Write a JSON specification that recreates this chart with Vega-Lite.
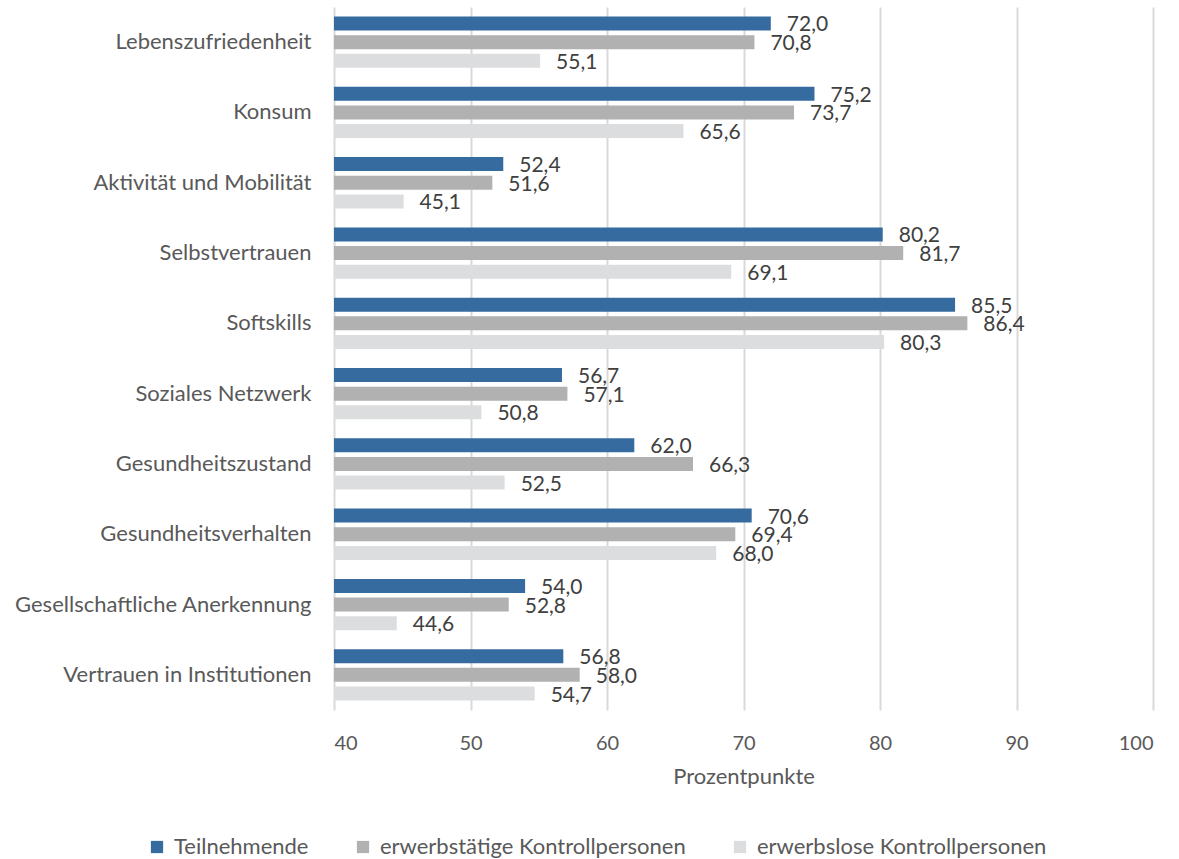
{
  "$schema": "https://vega.github.io/schema/vega-lite/v6.json",
  "autosize": "none",
  "width": 819,
  "height": 703,
  "padding": {"left": 334, "top": 7, "right": 26, "bottom": 149},
  "background": "white",
  "config": {
    "locale": {"number": {"decimal": ",", "thousands": ".", "grouping": [3], "currency": ["", " €"]}},
    "view": {"stroke": null},
    "font": "Lato"
  },
  "data": {
    "values": [
      {"k": "Lebenszufriedenheit", "g": "Teilnehmende", "v": 72.0},
      {"k": "Lebenszufriedenheit", "g": "erwerbstätige Kontrollpersonen", "v": 70.8},
      {"k": "Lebenszufriedenheit", "g": "erwerbslose Kontrollpersonen", "v": 55.1},
      {"k": "Konsum", "g": "Teilnehmende", "v": 75.2},
      {"k": "Konsum", "g": "erwerbstätige Kontrollpersonen", "v": 73.7},
      {"k": "Konsum", "g": "erwerbslose Kontrollpersonen", "v": 65.6},
      {"k": "Aktivität und Mobilität", "g": "Teilnehmende", "v": 52.4},
      {"k": "Aktivität und Mobilität", "g": "erwerbstätige Kontrollpersonen", "v": 51.6},
      {"k": "Aktivität und Mobilität", "g": "erwerbslose Kontrollpersonen", "v": 45.1},
      {"k": "Selbstvertrauen", "g": "Teilnehmende", "v": 80.2},
      {"k": "Selbstvertrauen", "g": "erwerbstätige Kontrollpersonen", "v": 81.7},
      {"k": "Selbstvertrauen", "g": "erwerbslose Kontrollpersonen", "v": 69.1},
      {"k": "Softskills", "g": "Teilnehmende", "v": 85.5},
      {"k": "Softskills", "g": "erwerbstätige Kontrollpersonen", "v": 86.4},
      {"k": "Softskills", "g": "erwerbslose Kontrollpersonen", "v": 80.3},
      {"k": "Soziales Netzwerk", "g": "Teilnehmende", "v": 56.7},
      {"k": "Soziales Netzwerk", "g": "erwerbstätige Kontrollpersonen", "v": 57.1},
      {"k": "Soziales Netzwerk", "g": "erwerbslose Kontrollpersonen", "v": 50.8},
      {"k": "Gesundheitszustand", "g": "Teilnehmende", "v": 62.0},
      {"k": "Gesundheitszustand", "g": "erwerbstätige Kontrollpersonen", "v": 66.3},
      {"k": "Gesundheitszustand", "g": "erwerbslose Kontrollpersonen", "v": 52.5},
      {"k": "Gesundheitsverhalten", "g": "Teilnehmende", "v": 70.6},
      {"k": "Gesundheitsverhalten", "g": "erwerbstätige Kontrollpersonen", "v": 69.4},
      {"k": "Gesundheitsverhalten", "g": "erwerbslose Kontrollpersonen", "v": 68.0},
      {"k": "Gesellschaftliche Anerkennung", "g": "Teilnehmende", "v": 54.0},
      {"k": "Gesellschaftliche Anerkennung", "g": "erwerbstätige Kontrollpersonen", "v": 52.8},
      {"k": "Gesellschaftliche Anerkennung", "g": "erwerbslose Kontrollpersonen", "v": 44.6},
      {"k": "Vertrauen in Institutionen", "g": "Teilnehmende", "v": 56.8},
      {"k": "Vertrauen in Institutionen", "g": "erwerbstätige Kontrollpersonen", "v": 58.0},
      {"k": "Vertrauen in Institutionen", "g": "erwerbslose Kontrollpersonen", "v": 54.7}
    ]
  },
  "encoding": {
    "y": {
      "field": "k", "type": "nominal", "sort": null, "title": null,
      "scale": {"paddingInner": 0.27, "paddingOuter": 0.135},
      "axis": {"labelFont": "Lato", "labelFontSize": 22, "labelColor": "#595959", "labelPadding": 23, "ticks": false, "domain": false, "labelLimit": 400}
    },
    "yOffset": {
      "field": "g", "type": "nominal",
      "sort": ["Teilnehmende", "erwerbstätige Kontrollpersonen", "erwerbslose Kontrollpersonen"],
      "scale": {"paddingInner": 0.25, "paddingOuter": 0}
    },
    "x": {
      "field": "v", "type": "quantitative", "title": "Prozentpunkte",
      "scale": {"domain": [40, 100], "nice": false, "zero": false},
      "axis": {
        "values": [40, 50, 60, 70, 80, 90, 100], "format": "d",
        "grid": true, "gridColor": "#d9d9d9", "gridWidth": 2,
        "domain": false, "ticks": false,
        "labelFont": "Lato", "labelFontSize": 20, "labelColor": "#595959", "labelPadding": 23,
        "titleFont": "Lato", "titleFontSize": 22, "titleColor": "#595959", "titleFontWeight": "normal", "titlePadding": 13
      }
    }
  },
  "layer": [
    {
      "mark": {"type": "bar", "clip": true},
      "encoding": {
        "x": {"field": "v", "type": "quantitative", "scale": {"domain": [40, 100], "nice": false, "zero": false}},
        "x2": {"datum": 40},
        "color": {
          "field": "g", "type": "nominal", "title": null,
          "sort": ["Teilnehmende", "erwerbstätige Kontrollpersonen", "erwerbslose Kontrollpersonen"],
          "scale": {"domain": ["Teilnehmende", "erwerbstätige Kontrollpersonen", "erwerbslose Kontrollpersonen"], "range": ["#356b9e", "#b1b1b2", "#dcdddf"]},
          "legend": {
            "orient": "none", "direction": "horizontal", "legendX": -188, "legendY": 829,
            "symbolType": "square", "symbolSize": 150, "symbolStrokeWidth": 0,
            "labelFont": "Lato", "labelFontSize": 22, "labelColor": "#595959",
            "labelOffset": 6, "columnPadding": 43, "labelLimit": 500
          }
        }
      }
    },
    {
      "mark": {"type": "text", "align": "left", "baseline": "middle", "dx": 16, "dy": 2, "font": "Lato", "fontSize": 21, "color": "#404040"},
      "encoding": {
        "text": {"field": "v", "type": "quantitative", "format": ".1f"}
      }
    }
  ]
}
